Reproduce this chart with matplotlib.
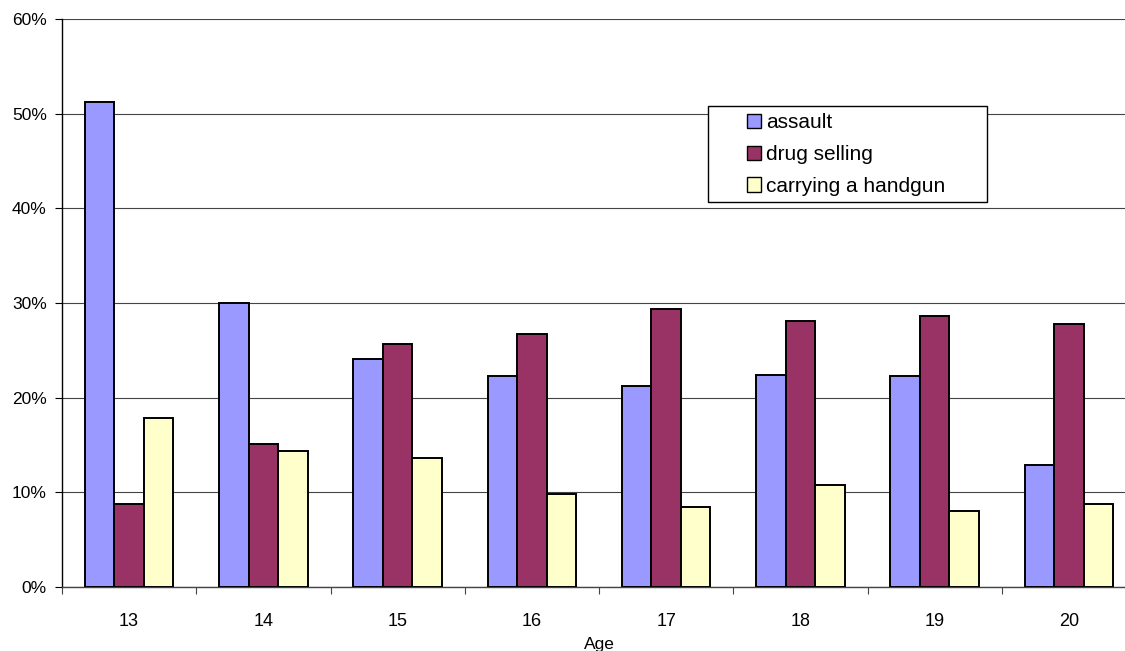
import matplotlib
matplotlib.use("Agg")
import matplotlib.pyplot as plt
from matplotlib.patches import Rectangle
from matplotlib.ticker import FixedLocator, FuncFormatter
import numpy as np

ages = ["13", "14", "15", "16", "17", "18", "19", "20"]
assault = [51.2, 30.0, 24.1, 22.3, 21.2, 22.4, 22.25, 12.9]
drug_selling = [8.8, 15.1, 25.7, 26.7, 29.4, 28.1, 28.6, 27.8]
handgun = [17.8, 14.35, 13.6, 9.85, 8.4, 10.8, 8.0, 8.8]
series_names = ["assault", "drug selling", "carrying a handgun"]
colors = ["#9999FF", "#993366", "#FFFFCC"]

plt.rcParams['font.family'] = ['Liberation Sans', 'DejaVu Sans']

fig = plt.figure(figsize=(11.25, 6.51), dpi=100)
W, H = 1125, 651
left, right, top, bottom = 62, 1136, 19, 587
ax = fig.add_axes([left / W, (H - bottom) / H, (right - left) / W, (bottom - top) / H])

x = np.arange(len(ages))
bw = 0.22
for i, (vals, name, c) in enumerate(zip([assault, drug_selling, handgun], series_names, colors)):
    ax.bar(x + (i - 1) * bw, vals, width=bw, color=c, edgecolor="black",
           linewidth=1.4, label=name, zorder=3)

ax.set_xlim(-0.5, len(ages) - 0.5)
ax.set_ylim(0, 60)
ax.yaxis.set_major_locator(FixedLocator(np.arange(0, 61, 10)))
ax.yaxis.set_major_formatter(FuncFormatter(lambda v, p: f"{v:.0f}%"))
ax.yaxis.grid(True, color="#444444", linewidth=0.8, zorder=0)
ax.set_axisbelow(True)

ax.set_xticks(x)
ax.set_xticklabels(ages)
ax.set_xticks(np.arange(-0.5, len(ages), 1.0), minor=True)
ax.tick_params(axis="x", which="major", length=0, pad=19, labelsize=13)
ax.tick_params(axis="x", which="minor", length=5, width=0.8, color="#444444", direction="out")
ax.tick_params(axis="y", which="major", length=5, width=0.8, pad=6, labelsize=12.5)
ax.set_xlabel("Age", fontsize=12.5, labelpad=5)

for s in ["top", "right"]:
    ax.spines[s].set_visible(False)
ax.spines["left"].set_linewidth(1.0)
ax.spines["bottom"].set_linewidth(1.0)
ax.spines["bottom"].set_color("#444444")

# legend frame
lx0, lx1, ly0, ly1 = 708, 987, 106, 202
rect = Rectangle(((lx0 - left) / (right - left), (bottom - ly1) / (bottom - top)),
                 (lx1 - lx0) / (right - left), (ly1 - ly0) / (bottom - top),
                 transform=ax.transAxes, facecolor="white", edgecolor="black",
                 linewidth=1.0, zorder=4)
ax.add_patch(rect)
leg = ax.legend(loc="upper left",
                bbox_to_anchor=((747 - left) / (right - left), (bottom - 113) / (bottom - top)),
                frameon=False, fontsize=15, borderpad=0, borderaxespad=0,
                handlelength=0.67, handleheight=0.67, handletextpad=0.25,
                labelspacing=0.62)
leg.set_zorder(5)
for h in leg.legend_handles:
    h.set_linewidth(1.0)

fig.savefig("out.png", dpi=100)
